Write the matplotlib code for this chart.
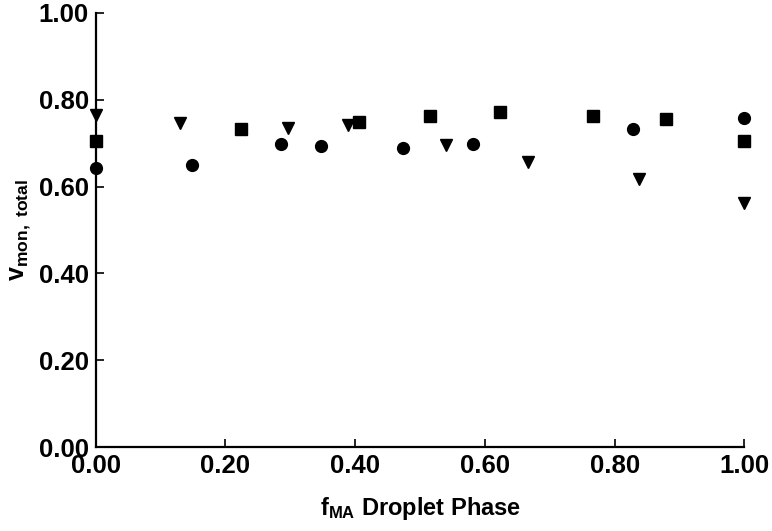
import matplotlib
matplotlib.use("Agg")
import matplotlib.pyplot as plt

plt.rcParams['font.family'] = ['Liberation Sans', 'DejaVu Sans']
plt.rcParams['mathtext.fontset'] = 'custom'
plt.rcParams['mathtext.rm'] = 'Liberation Sans:bold'
plt.rcParams['mathtext.bf'] = 'Liberation Sans:bold'
plt.rcParams['mathtext.it'] = 'Liberation Sans:bold'

# Data
circle_x = [0.0, 0.148, 0.286, 0.347, 0.474, 0.582, 0.829, 1.0]
circle_y = [0.642, 0.650, 0.698, 0.694, 0.689, 0.698, 0.732, 0.757]
square_x = [0.0, 0.224, 0.406, 0.515, 0.623, 0.766, 0.880, 1.0]
square_y = [0.705, 0.732, 0.749, 0.762, 0.772, 0.763, 0.755, 0.705]
tri_x = [0.0, 0.130, 0.296, 0.389, 0.540, 0.667, 0.838, 1.0]
tri_y = [0.765, 0.747, 0.735, 0.742, 0.696, 0.656, 0.617, 0.561]

ticks = [0.0, 0.2, 0.4, 0.6, 0.8, 1.0]
tick_labels = ['0.00', '0.20', '0.40', '0.60', '0.80', '1.00']

fig = plt.figure(figsize=(7.72, 5.31), dpi=100)
ax = fig.add_axes([95.7 / 772, 1 - 447.3 / 531, (744.3 - 95.7) / 772, (447.3 - 12.7) / 531])

ax.plot(circle_x, circle_y, 'o', color='black', markersize=8.5, clip_on=False, zorder=5)
ax.plot(square_x, square_y, 's', color='black', markersize=8, clip_on=False, zorder=5)
ax.plot(tri_x, tri_y, 'v', color='black', markersize=9, clip_on=False, zorder=5)

ax.set_xlim(0, 1)
ax.set_ylim(0, 1)
ax.set_xticks(ticks)
ax.set_xticklabels(tick_labels)
ax.set_yticks(ticks)
ax.set_yticklabels(tick_labels)

for s in ['top', 'right']:
    ax.spines[s].set_visible(False)
for s in ['left', 'bottom']:
    ax.spines[s].set_linewidth(1.6)

ax.tick_params(axis='both', direction='in', length=6, width=1.2, labelsize=18.5, pad=5)
for lab in ax.get_xticklabels() + ax.get_yticklabels():
    lab.set_fontweight('bold')

ax.set_xlabel(r'$\mathbf{f}_{\mathbf{MA}}$ Droplet Phase', fontsize=17, fontweight='bold', labelpad=12)
ax.set_ylabel(r'$\mathbf{v}_{\mathbf{mon,\ total}}$', fontsize=18, fontweight='bold', labelpad=4)

fig.savefig('out.png', dpi=100)
